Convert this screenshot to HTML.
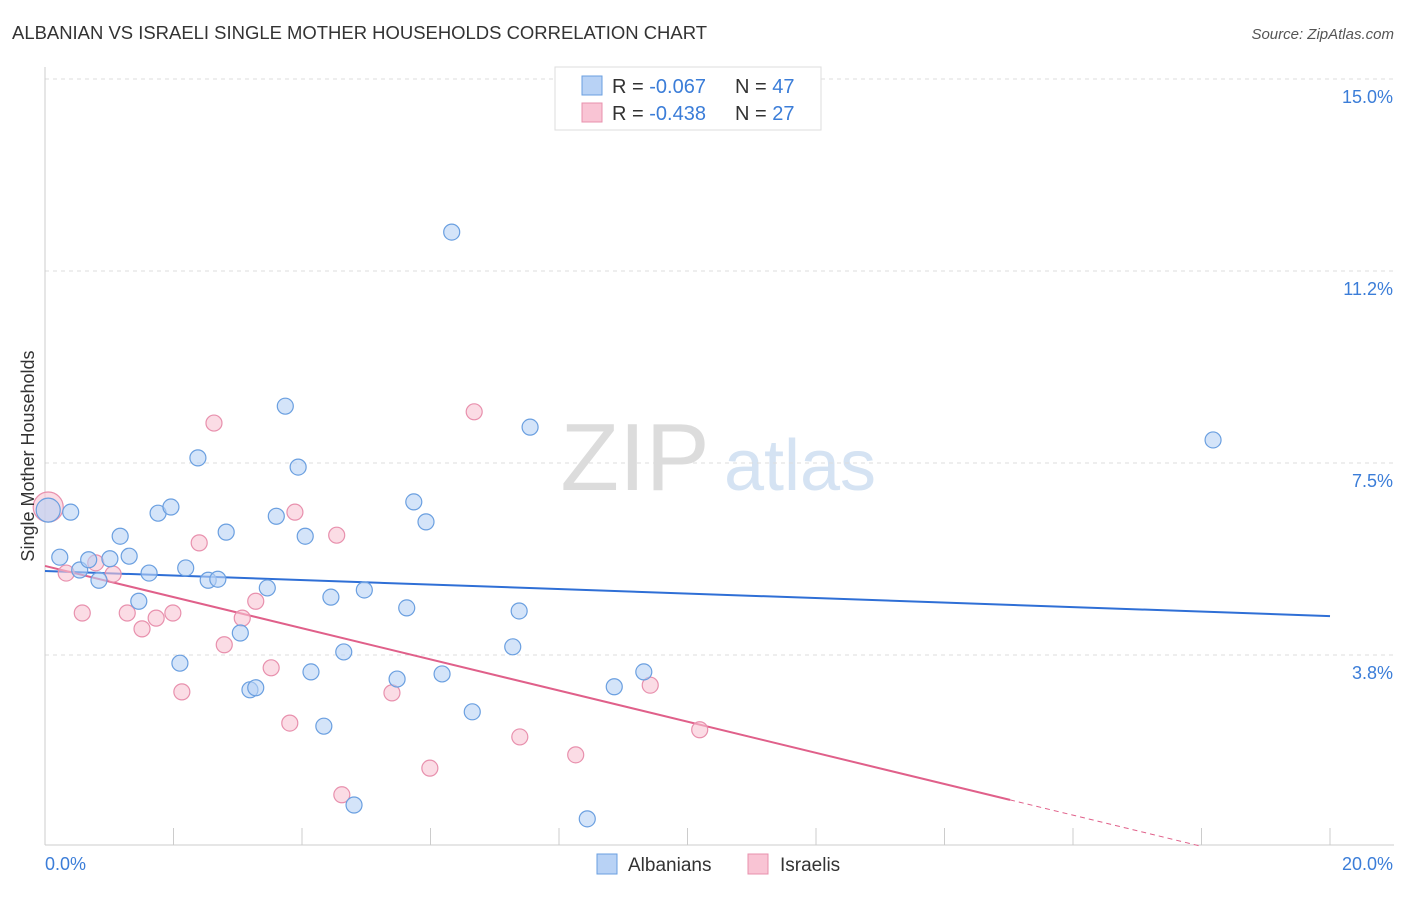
<!DOCTYPE html>
<html><head><meta charset="utf-8"><style>
body{margin:0;background:#fff;font-family:"Liberation Sans",sans-serif;}
svg text{font-family:"Liberation Sans",sans-serif;}
</style></head><body>
<svg id="chart" width="1406" height="892" viewBox="0 0 1406 892" xmlns="http://www.w3.org/2000/svg">
<text x="12" y="39" font-size="18" fill="#333" textLength="695" lengthAdjust="spacingAndGlyphs">ALBANIAN VS ISRAELI SINGLE MOTHER HOUSEHOLDS CORRELATION CHART</text>
<text x="1394" y="39" font-size="15" fill="#555" font-style="italic" text-anchor="end">Source: ZipAtlas.com</text>
<g>
<text x="635" y="490" font-size="96" fill="#dcdcdc" font-family="Liberation Serif" text-anchor="middle">ZIP</text>
<text x="800" y="490" font-size="72" fill="#d5e3f3" text-anchor="middle">atlas</text>
</g>
<g id="grid"></g>
<g id="axes"></g>
<g id="trends"></g>
<g id="points"></g>
<text transform="translate(34,456) rotate(-90)" font-size="18" fill="#333" text-anchor="middle">Single Mother Households</text>
<g>
<rect x="555" y="67" width="266" height="63" fill="#fff" stroke="#ddd"/>
<rect x="582" y="76" width="20" height="19" fill="#b8d2f5" stroke="#6a9fe0"/>
<rect x="582" y="103" width="20" height="19" fill="#f9c4d4" stroke="#e890ad"/>
<text x="612" y="93" font-size="20" fill="#333">R = <tspan fill="#3b7dd8">-0.067</tspan></text>
<text x="735" y="93" font-size="20" fill="#333">N = <tspan fill="#3b7dd8">47</tspan></text>
<text x="612" y="120" font-size="20" fill="#333">R = <tspan fill="#3b7dd8">-0.438</tspan></text>
<text x="735" y="120" font-size="20" fill="#333">N = <tspan fill="#3b7dd8">27</tspan></text>
</g>
<g>
<rect x="597" y="854" width="20" height="20" fill="#b8d2f5" stroke="#6a9fe0"/>
<text x="628" y="871" font-size="19" fill="#333">Albanians</text>
<rect x="748" y="854" width="20" height="20" fill="#f9c4d4" stroke="#e890ad"/>
<text x="780" y="871" font-size="19" fill="#333">Israelis</text>
</g>
</svg>
<script>
const albX=[0.05,0.40,0.23,0.54,0.68,0.84,1.01,1.17,1.31,1.46,1.62,1.76,1.96,2.10,2.19,2.38,2.54,2.69,2.82,3.04,3.19,3.28,3.46,3.60,3.74,3.94,4.05,4.14,4.34,4.45,4.65,4.81,4.97,5.48,5.63,5.74,5.93,6.18,6.33,6.65,7.28,7.38,7.55,8.44,8.86,9.32,18.18];
const albY=[6.58,6.54,5.66,5.41,5.61,5.21,5.63,6.07,5.68,4.80,5.35,6.52,6.64,3.59,5.45,7.60,5.21,5.23,6.15,4.18,3.07,3.11,5.06,6.46,8.61,7.42,6.07,3.42,2.36,4.88,3.81,0.82,5.02,3.28,4.67,6.74,6.35,3.38,12.01,2.64,3.91,4.61,8.20,0.55,3.13,3.42,7.95];
const isrX=[0.05,0.33,0.58,0.79,1.06,1.28,1.51,1.73,1.99,2.13,2.40,2.63,2.79,3.07,3.28,3.52,3.81,3.89,4.54,4.62,5.40,5.99,6.68,7.39,8.26,9.42,10.19];
const isrY=[6.64,5.35,4.57,5.55,5.33,4.57,4.26,4.47,4.57,3.03,5.94,8.28,3.95,4.47,4.80,3.50,2.42,6.54,6.09,1.02,3.01,1.54,8.50,2.15,1.80,3.16,2.29];
const yTicks=[15.0,11.25,7.5,3.75];
const yTickLabels=["15.0%","11.2%","7.5%","3.8%"];
const xTicks=[0,2,4,6,8,10,12,14,16,18,20];
const albTrend=[5.39,4.51];
const isrTrend=[5.49,0.92];
const isrSolidEnd=15.02, isrDashEnd=18.0;

const NS="http://www.w3.org/2000/svg";
const sx=v=>45+v*64.25;
const sy=v=>847-v*51.2;
function mk(tag,attrs,parent){const e=document.createElementNS(NS,tag);for(const k in attrs)e.setAttribute(k,attrs[k]);parent.appendChild(e);return e;}
const grid=document.getElementById('grid'),axes=document.getElementById('axes'),trends=document.getElementById('trends'),pts=document.getElementById('points');
yTicks.forEach((t,i)=>{
 const l=mk('line',{x1:45,x2:1394,y1:sy(t),y2:sy(t),stroke:'#ddd','stroke-dasharray':'4,4'},grid);
 
 
 const tx=mk('text',{x:1393,y:sy(t)+24,'font-size':18,fill:'#3b7dd8','text-anchor':'end'},axes);
 tx.textContent=yTickLabels[i];
 
 
});
let a=mk('line',{x1:45,x2:45,y1:67,y2:845,stroke:'#ccc'},axes);


a=mk('line',{x1:45,x2:1394,y1:845,y2:845,stroke:'#ccc'},axes);


xTicks.forEach(t=>{
 const l=mk('line',{x1:sx(t),x2:sx(t),y1:828,y2:845,stroke:'#ccc'},axes);
 
 
});
let xl=mk('text',{x:45,y:870,'font-size':18,fill:'#3b7dd8'},axes);xl.textContent=xTicks[0].toFixed(1)+'%';


xl=mk('text',{x:1393,y:870,'font-size':18,fill:'#3b7dd8','text-anchor':'end'},axes);xl.textContent=xTicks[xTicks.length-1].toFixed(1)+'%';



function dot(x,y,r,fill,stroke,name){
 const c=mk('circle',{cx:sx(x),cy:sy(y),r:r,fill:fill,'fill-opacity':0.6,stroke:stroke,'stroke-width':1.2},pts);
 
 
}
isrX.forEach((x,i)=>dot(x,isrY[i],i===0?15:8,'#f9c4d4','#e890ad','israeli-point'));
albX.forEach((x,i)=>dot(x,albY[i],i===0?12:8,'#b8d2f5','#6a9fe0','albanian-point'));

let t=mk('line',{x1:sx(0),y1:sy(albTrend[0]),x2:sx(20),y2:sy(albTrend[1]),stroke:'#2f6fd6','stroke-width':2},trends);


const isrAt=x=>isrTrend[0]+(isrTrend[1]-isrTrend[0])*x/isrSolidEnd;
t=mk('line',{x1:sx(0),y1:sy(isrAt(0)),x2:sx(isrSolidEnd),y2:sy(isrAt(isrSolidEnd)),stroke:'#e0608a','stroke-width':2},trends);


t=mk('line',{x1:sx(isrSolidEnd),y1:sy(isrAt(isrSolidEnd)),x2:sx(isrDashEnd),y2:sy(isrAt(isrDashEnd)),stroke:'#e0608a','stroke-width':1,'stroke-dasharray':'5,4'},trends);


</script>
</body></html>
